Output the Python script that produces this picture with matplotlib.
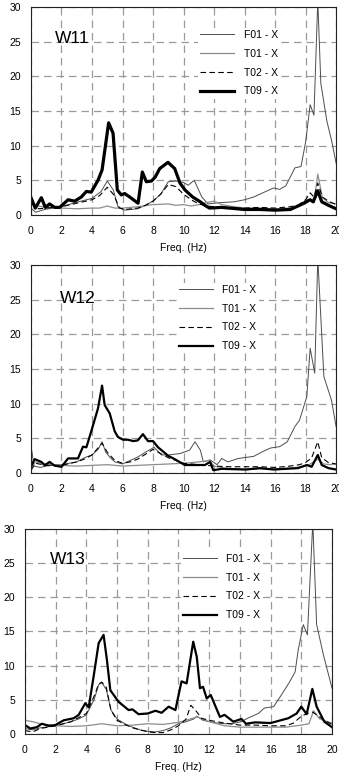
import matplotlib
matplotlib.use("Agg")
import matplotlib.pyplot as plt

plt.rcParams['font.family'] = ['Liberation Sans', 'DejaVu Sans']

# ---------------- W11 ----------------
w11_f01_f = [0, 0.3, 0.9, 2.0, 3.1, 4.0, 4.6, 5.0, 5.4, 5.7, 6.1, 7.0, 7.5, 8.0, 8.5, 9.0, 9.5, 10.0, 10.3, 10.7,
             11.2, 11.6, 12.0, 12.5, 13.3, 14.0, 14.6, 15.0, 15.5, 15.9, 16.3, 16.7, 17.0, 17.3, 17.7, 18.0, 18.3,
             18.55, 18.8, 19.0, 19.4, 19.7, 20.0]
w11_f01_v = [1.0, 0.4, 0.8, 1.2, 1.9, 2.4, 3.4, 4.9, 3.6, 1.2, 0.7, 0.9, 1.4, 2.0, 3.0, 4.8, 4.9, 4.7, 4.3, 5.0,
             2.6, 1.6, 1.7, 1.8, 1.9, 2.2, 2.6, 3.0, 3.5, 3.9, 3.7, 4.2, 5.5, 6.8, 7.0, 10.5, 15.9,
             14.4, 31.0, 19.0, 13.5, 10.8, 7.5]
w11_t01_f = [0, 0.5, 1, 2, 3, 4, 4.5, 5, 5.5, 6, 7, 8, 9, 9.5, 10, 10.5, 11, 11.5, 12, 12.5, 13, 14, 15, 16, 17,
             17.5, 18, 18.3, 18.55, 18.8, 19.1, 19.5, 20]
w11_t01_v = [1.5, 1.3, 1.1, 1.0, 0.9, 1.0, 1.0, 1.3, 1.0, 1.0, 1.2, 1.5, 1.6, 1.4, 1.5, 1.3, 1.5, 1.8, 2.0, 1.5, 1.3,
             1.0, 1.0, 0.9, 1.0, 1.2, 1.6, 2.2, 1.8, 5.9, 2.5, 1.8, 1.6]
w11_t02_f = [0, 0.5, 1, 2, 3, 4, 4.5, 5.0, 5.4, 5.8, 6.2, 7, 7.5, 8, 8.5, 9, 9.5, 10, 10.5, 11, 11.5, 12, 13, 14,
             15, 16, 17, 17.5, 18, 18.3, 18.55, 18.8, 19.1, 19.5, 20]
w11_t02_v = [1.8, 0.9, 1.0, 1.2, 1.7, 2.2, 2.8, 4.0, 3.0, 1.0, 0.8, 1.0, 1.4, 2.0, 3.0, 4.4, 4.1, 3.0, 2.2, 1.6,
             1.3, 1.2, 1.0, 1.0, 1.1, 1.0, 1.2, 1.4, 2.2, 3.2, 2.6, 4.6, 2.6, 2.0, 1.5]
w11_t09_f = [0, 0.28, 0.68, 0.94, 1.22, 1.55, 1.88, 2.43, 2.86, 3.3, 3.63, 3.95, 4.39, 4.66, 5.09, 5.38, 5.66,
             5.92, 6.14, 6.47, 7.02, 7.3, 7.56, 7.9, 8.15, 8.44, 8.98, 9.42, 9.77, 10.1, 10.6, 11.1, 11.4, 11.7,
             12.5, 13.0, 14, 15, 16, 17, 17.6, 18.3, 18.5, 18.8, 19.06, 19.5, 20]
w11_t09_v = [2.5, 1.0, 2.5, 1.1, 1.6, 1.1, 1.1, 2.2, 2.0, 2.6, 3.4, 3.3, 5.0, 6.5, 13.3, 11.8, 3.6,
             2.9, 3.1, 2.6, 1.7, 6.2, 4.8, 4.9, 5.5, 6.7, 7.6, 6.7, 4.6, 3.6, 2.6, 1.9, 1.4, 1.0,
             1.1, 1.0, 0.8, 0.8, 0.7, 0.8, 1.4, 2.2, 1.9, 3.5, 1.9, 1.4, 0.9]

# ---------------- W12 ----------------
w12_f01_f = [0, 0.2, 0.6, 1, 2, 3, 3.5, 4.0, 4.4, 4.66, 4.9, 5.2, 5.5, 6, 6.5, 7, 7.5, 8.07, 8.55, 9, 9.77, 10.4,
             10.75, 11.1, 11.3, 11.74, 12.2, 12.5, 12.9, 13.6, 14.6, 15.2, 15.7, 16.3, 16.8, 17.3, 17.6, 18.08,
             18.3, 18.6, 18.8, 19.2, 19.7, 20]
w12_f01_v = [4.0, 1.0, 0.8, 1.0, 1.2, 1.6, 2.2, 2.6, 3.4, 4.5, 3.0, 2.2, 1.6, 1.3, 1.8, 2.3, 3.0, 3.7, 2.6, 2.6,
             2.8, 3.3, 4.5, 3.3, 1.6, 1.9, 1.2, 2.1, 1.6, 2.1, 2.4, 3.1, 3.6, 3.8, 4.5, 6.7, 7.6, 11.0,
             18.0, 14.4, 31.0, 13.9, 10.5, 6.7]
w12_t01_f = [0, 0.3, 1, 2, 3, 4, 5, 6, 7, 8, 9, 10, 11, 11.7, 12, 13, 14, 15, 16, 17, 18, 18.4, 18.8, 19.2,
             19.6, 20]
w12_t01_v = [0.8, 1.6, 1.3, 1.1, 1.0, 1.1, 1.2, 1.0, 1.1, 1.2, 1.3, 1.4, 1.6, 1.8, 1.0, 0.6, 0.5, 0.6, 0.6, 0.7,
             1.0, 1.4, 2.0, 1.3, 1.2, 1.3]
w12_t02_f = [0, 0.3, 1, 2, 3, 3.5, 4, 4.66, 5.0, 5.5, 6, 6.5, 7, 7.5, 8, 8.5, 9, 10, 11, 12, 13, 14, 15, 16, 17,
             17.6, 18.0, 18.4, 18.8, 19.06, 19.5, 20]
w12_t02_v = [0.4, 1.4, 1.1, 1.1, 1.6, 2.0, 2.6, 4.3, 3.0, 1.8, 1.4, 1.6, 2.0, 2.7, 3.4, 2.8, 2.2, 1.4, 1.2, 1.0,
             0.9, 0.9, 0.9, 0.8, 1.0, 1.2, 1.5, 2.2, 4.5, 2.2, 1.5, 1.3]
w12_t09_f = [0, 0.24, 0.68, 0.9, 1.22, 1.55, 2.0, 2.43, 3.08, 3.41, 3.63, 3.95, 4.39, 4.66, 4.83, 5.16, 5.49, 5.7,
             6.03, 6.36, 6.7, 7.0, 7.34, 7.67, 8.0, 8.33, 8.66, 8.98, 9.42, 10.08, 10.6, 11.4, 11.74, 11.95,
             12.5, 14.1, 15, 15.9, 17.5, 18.08, 18.4, 18.8, 19.06, 19.5, 20]
w12_t09_v = [0.9, 2.0, 1.6, 1.1, 1.6, 1.05, 0.9, 2.1, 2.1, 3.8, 3.7, 6.0, 9.3, 12.6, 9.8, 8.6, 6.0, 5.2,
             4.8, 4.8, 4.6, 4.7, 5.6, 4.6, 4.6, 3.7, 3.1, 2.5, 2.0, 1.15, 1.15, 1.15, 1.6, 0.4,
             0.6, 0.5, 0.7, 0.5, 0.7, 1.15, 0.9, 2.6, 1.15, 0.7, 0.5]

# ---------------- W13 ----------------
w13_f01_f = [0, 0.5, 1, 2, 3, 3.5, 4, 4.5, 4.8, 5.0, 5.3, 5.6, 6, 6.5, 7, 7.5, 8, 8.5, 9, 9.5, 10, 10.5, 11, 11.2,
             11.6, 12, 12.5, 13, 13.5, 14.1, 14.5, 15.2, 15.6, 16.2, 16.7, 17.26, 17.6, 17.8, 18.13, 18.4, 18.75,
             19.0, 19.44, 20]
w13_f01_v = [0.8, 0.6, 0.9, 1.2, 1.8, 2.2, 2.8, 5.0, 7.2, 7.5, 6.5, 3.5, 2.2, 1.5, 1.0, 0.6, 0.4, 0.3, 0.5, 0.9,
             1.5, 1.8, 2.2, 2.6, 2.0, 1.8, 1.6, 1.5, 1.5, 1.8, 2.3, 3.0, 3.8, 4.0, 5.7, 7.7, 9.1, 12.3, 16.0,
             14.5, 31.0, 16.0, 11.6, 6.7]
w13_t01_f = [0, 0.5, 1, 2, 3, 4, 5, 6, 7, 8, 9, 10, 10.5, 11.2, 12, 13, 14, 15, 16, 17, 18, 18.5, 18.8, 19.2, 20]
w13_t01_v = [2.0, 1.8, 1.5, 1.2, 1.1, 1.2, 1.5, 1.2, 1.3, 1.5, 1.4, 1.7, 2.0, 2.5, 1.8, 1.2, 1.0, 1.0, 1.0, 1.0,
             1.3, 1.5, 3.4, 2.2, 1.6]
w13_t02_f = [0, 0.5, 1, 2, 3, 4, 4.5, 4.8, 5.0, 5.3, 5.6, 6, 6.5, 7, 7.5, 8, 8.5, 9, 9.5, 10, 10.5, 10.8, 11.1,
             11.5, 12, 13, 14, 15, 16, 17, 17.5, 18, 18.4, 18.75, 19.0, 19.5, 20]
w13_t02_v = [0.5, 0.3, 0.8, 1.2, 1.8, 3.0, 5.5, 7.3, 7.6, 6.8, 3.5, 2.0, 1.4, 0.9, 0.6, 0.3, 0.2, 0.2, 0.6, 1.2,
             2.2, 4.2, 3.5, 2.3, 2.0, 1.6, 1.3, 1.3, 1.2, 1.2, 1.6, 2.6, 3.0, 3.2, 2.8, 2.0, 1.4]
w13_t09_f = [0, 0.35, 0.78, 1.1, 1.54, 1.97, 2.52, 3.17, 3.5, 3.93, 4.15, 4.47, 4.8, 5.12, 5.34, 5.56, 6.1, 6.75,
             7.0, 7.4, 8.0, 8.5, 8.9, 9.36, 9.8, 10.12, 10.2, 10.53, 10.96, 11.19, 11.4, 11.6, 11.84, 12.1,
             12.38, 12.7, 13.0, 13.57, 14.1, 14.4, 15, 16, 17.15, 17.7, 18.0, 18.35, 18.72, 19.0, 19.5, 20]
w13_t09_v = [1.3, 0.8, 1.0, 1.5, 1.2, 1.3, 2.0, 2.3, 2.8, 4.5, 3.9, 8.4, 13.3, 14.5, 10.8, 6.4, 4.7, 3.5,
             3.6, 2.9, 3.0, 3.4, 3.1, 4.0, 3.5, 6.9, 7.7, 7.4, 13.5, 11.3, 6.7, 6.9, 5.2, 5.7,
             4.2, 2.5, 2.8, 1.8, 2.2, 1.5, 1.7, 1.6, 2.3, 3.0, 4.0, 2.9, 6.6, 4.0, 1.8, 1.0]

legend_labels = ["F01 - X", "T01 - X", "T02 - X", "T09 - X"]

# name, axes rect, thick lw, series..., name position, legend anchor
panels = [
    ("W11", [0.0914, 0.7222, 0.900, 0.2687], 2.3,
     (w11_f01_f, w11_f01_v), (w11_t01_f, w11_t01_v), (w11_t02_f, w11_t02_v), (w11_t09_f, w11_t09_v),
     (0.079, 0.85), (0.53, 0.925)),
    ("W12", [0.0914, 0.3889, 0.900, 0.2687], 1.6,
     (w12_f01_f, w12_f01_v), (w12_t01_f, w12_t01_v), (w12_t02_f, w12_t02_v), (w12_t09_f, w12_t09_v),
     (0.095, 0.84), (0.46, 0.94)),
    ("W13", [0.0737, 0.0517, 0.9056, 0.2649], 1.6,
     (w13_f01_f, w13_f01_v), (w13_t01_f, w13_t01_v), (w13_t02_f, w13_t02_v), (w13_t09_f, w13_t09_v),
     (0.081, 0.85), (0.49, 0.915)),
]

fig = plt.figure(figsize=(3.39, 7.74), dpi=100)

for name, rect, thick, f01, t01, t02, t09, txt_pos, leg_pos in panels:
    ax = fig.add_axes(rect)
    ax.plot(f01[0], f01[1], color="#4d4d4d", lw=0.7, label=legend_labels[0])
    ax.plot(t01[0], t01[1], color="#8c8c8c", lw=0.9, label=legend_labels[1])
    ax.plot(t02[0], t02[1], color="black", lw=0.8, ls=(0, (5, 3)), label=legend_labels[2])
    ax.plot(t09[0], t09[1], color="black", lw=thick, label=legend_labels[3])

    ax.set_xlim(0, 20)
    ax.set_ylim(0, 30)
    ax.set_xticks(range(0, 21, 2))
    ax.set_yticks(range(0, 31, 5))
    ax.grid(True, color="#9a9a9a", ls=(0, (6, 4)), lw=0.9)
    ax.set_axisbelow(True)
    ax.tick_params(length=0, labelsize=7.5, pad=8)
    ax.tick_params(axis="y", pad=7)
    for s in ax.spines.values():
        s.set_color("#222222")
        s.set_linewidth(0.8)
    ax.set_xlabel("Freq. (Hz)", fontsize=7.5, labelpad=5)
    ax.text(txt_pos[0], txt_pos[1], name, transform=ax.transAxes, fontsize=12.5,
            ha="left", va="center")
    leg = ax.legend(loc="upper left", bbox_to_anchor=leg_pos, fontsize=7.5, frameon=True,
                    handlelength=3.3, labelspacing=0.85, borderpad=0.2, handletextpad=0.9)
    leg.get_frame().set_facecolor("white")
    leg.get_frame().set_edgecolor("none")
    leg.get_frame().set_alpha(1)

fig.savefig("out.png", dpi=100)
